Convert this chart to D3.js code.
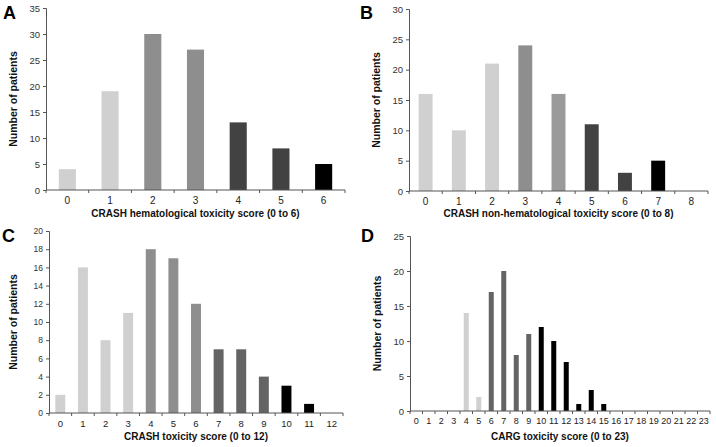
<!DOCTYPE html>
<html><head><meta charset="utf-8">
<script src="https://cdn.jsdelivr.net/npm/d3@7"></script>
<style>body{margin:0;background:#fff}svg{display:block;font-family:"Liberation Sans",Arial,sans-serif}</style>
</head><body><svg id="c" width="716" height="447"></svg>
<script>
// ---- data ----
const catsA = d3.range(0, 7).map(String);
const valsA = [4, 19, 30, 27, 13, 8, 5];
const colsA = ["L","L","M","M","D","D","K"];

const catsB = d3.range(0, 9).map(String);
const valsB = [16, 10, 21, 24, 16, 11, 3, 5, 0];
const colsB = ["L","L","L","M","M2","D","D","K","K"];

const catsC = d3.range(0, 13).map(String);
const valsC = [2, 16, 8, 11, 18, 17, 12, 7, 7, 4, 3, 1, 0];
const colsC = ["L","L","L","L","M","M","M","G","G","G","K","K","K"];

const catsD = d3.range(0, 24).map(String);
const valsD = [0,0,0,0,14,2,17,20,8,11,12,10,7,1,3,1,0,0,0,0,0,0,0,0];
const colsD = ["L","L","L","L","L","L","G","G","G","G","K","K","K","K","K","K","K","K","K","K","K","K","K","K"];

const yTicksA = d3.range(0, 36, 5);
const yTicksB = d3.range(0, 31, 5);
const yTicksC = d3.range(0, 21, 2);
const yTicksD = d3.range(0, 26, 5);

const titles = ["CRASH hematological toxicity score (0 to 6)",
                "CRASH non-hematological toxicity score (0 to 8)",
                "CRASH toxicity score (0 to 12)",
                "CARG toxicity score (0 to 23)"];
const letters = ["A","B","C","D"];
const yLabel = "Number of patients";

const palette = {L:"#d0d0d0", M:"#8e8e8e", M2:"#9a9a9a", D:"#424242", G:"#646464", K:"#000000"};

// ---- layout ----
const panels = [
  {cats:catsA, vals:valsA, cols:colsA, ticks:yTicksA, ymax:35, left:46, right:345, top:8, bottom:190, pad:0.6, letterX:3, letterY:19, ylabX:13, titleY:217, tickFs:10, yFs:9.5},
  {cats:catsB, vals:valsB, cols:colsB, ticks:yTicksB, ymax:30, left:409, right:708, top:9, bottom:191, pad:0.58, letterX:360, letterY:19, ylabX:376, titleY:217, tickFs:10, yFs:9.5},
  {cats:catsC, vals:valsC, cols:colsC, ticks:yTicksC, ymax:20, left:49, right:343, top:231, bottom:413, pad:0.56, letterX:2, letterY:242, ylabX:13, titleY:440, tickFs:9.5, yFs:8.5},
  {cats:catsD, vals:valsD, cols:colsD, ticks:yTicksD, ymax:25, left:410, right:710, top:236, bottom:411, pad:0.6, letterX:361, letterY:242, ylabX:377, titleY:440, tickFs:9, yFs:9.5}
];

const svg = d3.select("#c");
const axisCol = "#555";

panels.forEach((p, i) => {
  const g = svg.append("g");
  const x = d3.scaleBand().domain(p.cats).range([p.left, p.right]).paddingInner(p.pad).paddingOuter(p.pad/2);
  const y = d3.scaleLinear().domain([0, p.ymax]).range([p.bottom, p.top]);

  g.selectAll("rect").data(p.vals).join("rect")
    .attr("x", (d, j) => x(p.cats[j]))
    .attr("width", x.bandwidth())
    .attr("y", d => y(d))
    .attr("height", d => y(0) - y(d))
    .attr("fill", (d, j) => palette[p.cols[j]]);

  // y axis
  const ya = g.append("g").attr("transform", `translate(${p.left},0)`)
    .call(d3.axisLeft(y).tickValues(p.ticks).tickSize(3).tickPadding(3));
  ya.select(".domain").attr("stroke", axisCol);
  ya.selectAll(".tick line").attr("stroke", axisCol);
  ya.selectAll("text").attr("font-size", p.yFs).attr("fill", "#333").attr("font-family", "Liberation Sans, Arial, sans-serif");

  // x axis: band axis with ticks at boundaries
  const xa = g.append("g").attr("transform", `translate(0,${p.bottom})`)
    .call(d3.axisBottom(x).tickSize(0).tickPadding(7));
  xa.select(".domain").attr("stroke", axisCol).attr("d", `M${p.left},0H${p.right}`);
  xa.selectAll("text").attr("font-size", p.tickFs).attr("fill", "#222").attr("font-family", "Liberation Sans, Arial, sans-serif");
  const step = x.step();
  const bounds = d3.range(0, p.cats.length + 1).map(k => p.left + k * step);
  xa.selectAll("line.bt").data(bounds).join("line").attr("class","bt")
    .attr("x1", d => d).attr("x2", d => d).attr("y1", 0).attr("y2", 3)
    .attr("stroke", axisCol);

  // titles
  g.append("text").attr("x", (p.left + p.right) / 2).attr("y", p.titleY)
    .attr("text-anchor", "middle").attr("font-weight", "bold").attr("font-size", 10).attr("fill", "#111")
    .text(titles[i]);
  g.append("text").attr("transform", `translate(${p.ylabX},${(p.top + p.bottom) / 2}) rotate(-90)`)
    .attr("text-anchor", "middle").attr("dominant-baseline", "central")
    .attr("font-weight", "bold").attr("font-size", 10.5).attr("fill", "#111")
    .text(yLabel);
  g.append("text").attr("x", p.letterX).attr("y", p.letterY)
    .attr("font-weight", "bold").attr("font-size", 18).attr("fill", "#000")
    .text(letters[i]);
});
</script></body></html>
